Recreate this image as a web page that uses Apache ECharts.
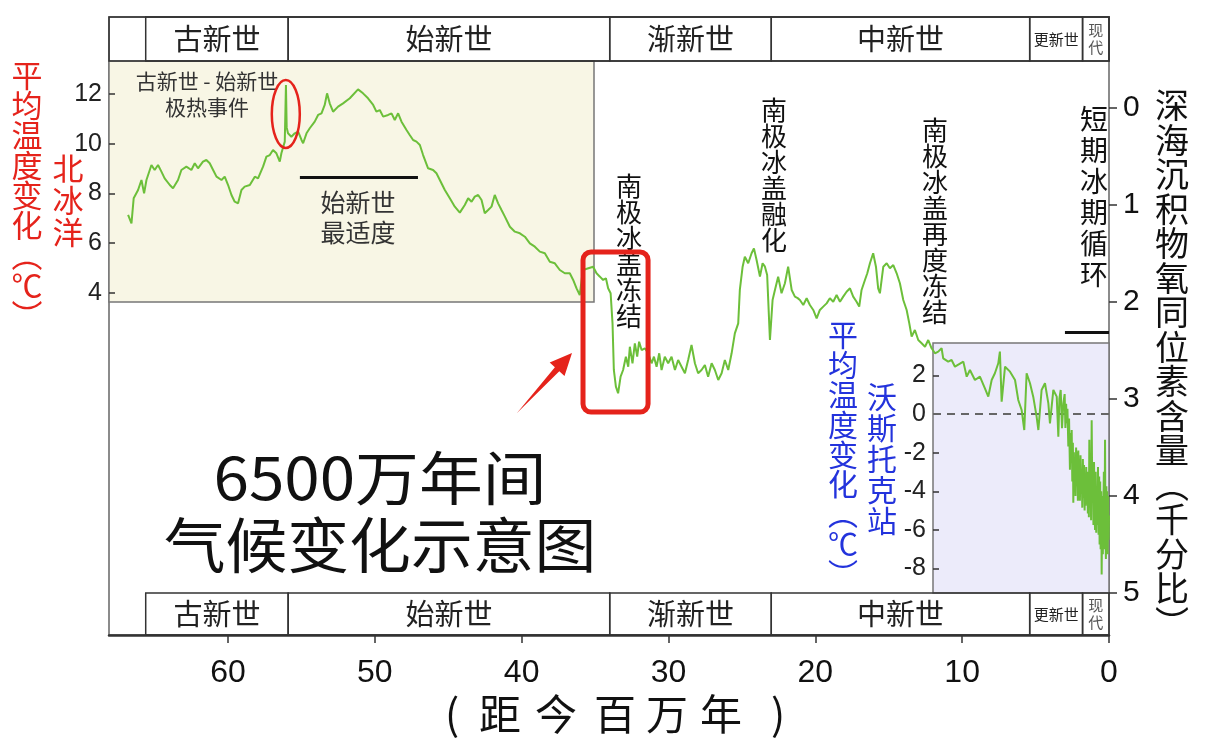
<!DOCTYPE html>
<html><head><meta charset="utf-8">
<script src="https://cdn.jsdelivr.net/npm/echarts@6/dist/echarts.min.js"></script>
<style>html,body{margin:0;padding:0;background:#fff;}#c{width:1224px;height:744px;}</style>
</head><body><div id="c"></div>
<script>
// Age (million years before present)
const ageMa = [
66.80,66.57,66.42,66.12,65.89,65.71,65.55,65.21,64.99,64.76,
64.53,64.31,63.96,63.74,63.40,63.17,62.83,62.49,62.26,62.04,
61.70,61.47,61.24,61.01,60.78,60.44,60.22,59.99,59.76,59.54,
59.31,59.08,58.86,58.51,58.17,57.95,57.61,57.38,57.15,56.93,
56.70,56.47,56.36,56.13,56.08,56.05,56.00,55.91,55.68,55.45,
55.22,54.99,54.88,54.65,54.43,54.09,53.86,53.63,53.41,53.25,
53.07,52.84,52.50,52.16,51.70,51.14,50.80,50.46,50.11,49.89,
49.66,49.43,49.09,48.86,48.64,48.41,48.18,47.84,47.62,47.39,
47.16,46.93,46.71,46.37,46.03,45.80,45.57,45.23,44.89,44.55,
44.21,43.87,43.64,43.41,43.19,42.96,42.73,42.51,42.28,42.05,
41.83,41.60,41.37,41.14,40.80,40.46,40.12,39.78,39.44,39.10,
38.76,38.42,38.08,37.74,37.40,37.06,36.72,36.49,36.26,36.04,
35.83,35.13,34.90,34.67,34.45,34.26,34.11,33.94,33.81,33.72,
33.58,33.43,33.26,33.09,32.90,32.74,32.63,32.45,32.29,32.13,
32.00,31.83,31.61,31.38,31.15,30.99,30.81,30.63,30.47,30.25,
30.02,29.79,29.56,29.34,29.11,28.88,28.66,28.43,28.20,27.98,
27.75,27.52,27.30,27.06,26.84,26.61,26.38,26.16,25.93,25.70,
25.48,25.25,25.14,24.95,24.80,24.57,24.34,24.18,24.00,23.77,
23.59,23.43,23.28,23.09,22.91,22.75,22.53,22.30,22.07,21.85,
21.61,21.39,21.20,21.05,20.82,20.59,20.37,20.14,19.91,19.69,
19.46,19.23,19.01,18.78,18.55,18.32,18.10,17.87,17.64,17.42,
17.19,17.01,16.85,16.62,16.46,16.28,16.06,15.87,15.72,15.60,
15.37,15.14,14.92,14.69,14.46,14.24,14.01,13.78,13.60,13.44,
13.22,12.99,12.76,12.53,12.31,12.08,11.85,11.63,11.40,11.29,
11.17,10.95,10.83,10.72,10.49,10.37,9.92,9.69,9.47,9.13,
8.79,8.45,8.22,7.99,7.77,7.54,7.43,7.31,7.08,6.74,
6.40,6.18,5.95,5.77,5.61,5.38,5.16,4.93,4.81,4.59,
4.36,4.13,4.02,3.79,3.56,3.45,3.38,3.29,3.20,3.11,
3.02,2.97,2.92,2.88,2.83,2.77,2.72,2.66,2.62,2.58,
2.54,2.50,2.46,2.43,2.39,2.35,2.32,2.28,2.24,2.20,
2.16,2.12,2.09,2.05,2.02,1.98,1.94,1.90,1.86,1.82,
1.78,1.74,1.70,1.66,1.63,1.59,1.55,1.52,1.48,1.44,
1.40,1.37,1.34,1.30,1.26,1.22,1.18,1.14,1.10,1.06,
1.02,0.98,0.95,0.91,0.87,0.83,0.79,0.75,0.71,0.67,
0.64,0.60,0.57,0.53,0.50,0.46,0.42,0.39,0.35,0.31,
0.27,0.24,0.21,0.18,0.15,0.12,0.09,0.06,0.03,0.00
];
// Deep-sea sediment oxygen isotope (per mil)
const d18O = [
1.103,1.189,0.931,0.845,0.742,0.880,0.742,0.588,0.639,0.588,
0.656,0.725,0.794,0.828,0.742,0.639,0.605,0.639,0.570,0.622,
0.553,0.536,0.570,0.639,0.708,0.742,0.708,0.794,0.897,0.966,
0.983,0.845,0.811,0.794,0.708,0.725,0.605,0.502,0.485,0.433,
0.467,0.553,0.467,0.347,0.330,-0.237,0.200,0.261,0.296,0.261,
0.244,0.330,0.364,0.261,0.209,0.141,0.072,0.055,-0.031,-0.151,
-0.048,0.038,-0.014,-0.048,-0.100,-0.192,-0.151,-0.100,-0.031,0.038,
0.021,0.089,0.072,0.055,0.124,0.055,0.141,0.227,0.278,0.330,
0.347,0.381,0.485,0.622,0.639,0.673,0.742,0.845,0.931,1.017,
1.079,1.000,0.931,0.966,0.914,0.897,0.948,1.086,1.052,1.017,
0.897,0.983,1.052,1.120,1.224,1.275,1.292,1.327,1.395,1.430,
1.481,1.498,1.585,1.601,1.670,1.704,1.704,1.773,1.859,1.928,
1.670,1.636,1.704,1.739,1.773,1.756,1.859,1.910,2.220,2.701,
2.873,2.941,2.770,2.701,2.564,2.667,2.461,2.632,2.426,2.564,
2.409,2.495,2.477,2.529,2.632,2.564,2.667,2.529,2.701,2.564,
2.632,2.564,2.701,2.598,2.667,2.735,2.598,2.443,2.632,2.735,
2.701,2.649,2.770,2.632,2.701,2.804,2.735,2.598,2.701,2.529,
2.323,2.220,1.876,1.636,1.533,1.601,1.498,1.447,1.567,1.739,
1.601,1.636,1.722,2.392,1.979,1.876,1.739,1.910,1.807,1.636,
1.876,1.945,1.960,1.979,2.031,1.962,2.031,2.082,2.168,2.082,
2.048,2.014,1.962,1.997,1.928,1.997,1.945,1.894,1.859,1.945,
1.997,2.048,1.876,1.773,1.704,1.601,1.498,1.636,1.859,1.910,
1.636,1.601,1.653,1.619,1.704,1.807,1.979,2.082,2.220,2.357,
2.289,2.392,2.426,2.461,2.392,2.477,2.529,2.512,2.477,2.581,
2.564,2.615,2.632,2.598,2.667,2.649,2.615,2.770,2.701,2.804,
2.770,2.890,2.976,2.804,2.735,2.632,2.512,3.028,2.667,2.718,
2.804,3.010,3.113,3.320,2.735,2.838,2.976,3.182,3.320,2.907,
2.838,3.045,3.251,2.907,2.976,3.388,3.000,2.907,3.300,3.045,
2.95,3.30,3.05,3.25,3.10,3.49,3.20,3.73,3.35,3.60,
3.32,3.85,3.45,4.07,3.55,3.95,3.60,4.00,3.50,3.90,
3.55,4.05,3.53,3.95,3.62,4.05,3.58,3.98,3.73,4.12,
3.62,4.02,3.68,4.15,3.87,4.10,3.70,4.08,3.75,4.18,
3.80,4.22,3.42,4.00,3.70,4.25,3.22,3.95,3.70,4.30,
3.65,4.20,4.35,3.75,4.38,3.90,4.30,3.70,4.40,3.80,
4.50,3.85,4.55,3.95,4.81,4.00,4.60,4.21,3.75,4.55,
3.42,4.40,4.65,3.90,4.49,3.95,4.60,4.00,4.45,4.20
];
const xTicks = [0,10,20,30,40,50,60];
const isoTicks = [0,1,2,3,4,5];
const arcticTicks = [4,6,8,10,12];
const vostokTicks = [2,0,-2,-4,-6,-8];
const epochNames = ['古新世','始新世','渐新世','中新世','更新世','现代'];
const epochStart = [65.6,55.9,34.0,23.0,5.4,1.8];
const epochEnd   = [55.9,34.0,23.0,5.4,1.8,0.0];

const CJK = "'Noto Sans CJK SC', sans-serif";
const NUM = "'Liberation Sans Narrow','Liberation Sans',Arial,sans-serif";
const GREEN = '#6cbf3a', RED = '#e5231b', BLUE = '#2333dc';

const chart = echarts.init(document.getElementById('c'), null, {renderer:'canvas'});
const curve = ageMa.map((a,i)=>[a, d18O[i]]);
const epochData = epochStart.map((s,i)=>[s, epochEnd[i], i]);

function headerItem(params, api){
  const s = api.value(0), e = api.value(1), idx = api.value(2);
  const p0 = api.coord([s, 1]), p1 = api.coord([e, 0]);
  const x = p0[0], y = p0[1], w = p1[0]-p0[0], h = p1[1]-p0[1];
  const name = epochNames[idx];
  let txt = name, fs = 29, lh = 30, col = '#222';
  if (w < 35) { txt = Array.from(name).join('\n'); fs = 15; lh = 17; col = '#555'; }
  else if (w < 70) { fs = 15; lh = 17; }
  return {type:'group', children:[
    {type:'rect', shape:{x:x, y:y, width:w, height:h}, style:{fill:'transparent', stroke:'#333', lineWidth:1.5}},
    {type:'text', x:x+w/2, y:y+h/2, style:{text:txt, fontSize:fs, lineHeight:lh, fill:col, align:'center', verticalAlign:'middle', fontFamily:CJK}}
  ]};
}

const option = {
  animation:false,
  backgroundColor:'#ffffff',
  grid:[
    {left:109, top:17, width:1000, height:618, show:true, borderColor:'#666', borderWidth:1.5, backgroundColor:'transparent'},
    {left:109, top:61, width:485, height:241, show:true, backgroundColor:'#f8f6e5', borderColor:'#777', borderWidth:1.5},
    {left:933, top:343, width:176, height:250, show:true, backgroundColor:'#ecebfa', borderColor:'#777', borderWidth:1.5},
    {left:109, top:17, width:1000, height:44, show:true, borderColor:'#333', borderWidth:1.5, backgroundColor:'transparent'},
    {left:109, top:593, width:1000, height:42, show:false}
  ],
  xAxis:[
    {gridIndex:0, type:'value', min:0, max:68.1, inverse:true, position:'bottom',
     axisLine:{show:true, onZero:false, lineStyle:{color:'#333', width:2.5}},
     axisTick:{show:true, customValues:xTicks, length:8, lineStyle:{color:'#333', width:1.5}},
     axisLabel:{customValues:xTicks, fontSize:32, margin:22, color:'#111', fontFamily:NUM},
     splitLine:{show:false}},
    {gridIndex:1, type:'value', min:0, max:1, show:false},
    {gridIndex:2, type:'value', min:0, max:1, show:false},
    {gridIndex:3, type:'value', min:0, max:68.1, inverse:true, show:false},
    {gridIndex:4, type:'value', min:0, max:68.1, inverse:true, show:false}
  ],
  yAxis:[
    {gridIndex:0, type:'value', position:'right', min:-0.938, max:5.433, inverse:true,
     axisLine:{show:false, onZero:false},
     axisTick:{show:true, customValues:isoTicks, length:8, lineStyle:{color:'#333', width:1.5}},
     axisLabel:{customValues:isoTicks, fontSize:30, margin:14, color:'#111', fontFamily:NUM},
     splitLine:{show:false}},
    {gridIndex:1, type:'value', position:'left', min:3.638, max:13.327,
     axisLine:{show:false, onZero:false},
     axisTick:{show:true, inside:true, customValues:arcticTicks, length:6, lineStyle:{color:'#333', width:1.5}},
     axisLabel:{customValues:arcticTicks, fontSize:25, margin:7, color:'#222', fontFamily:NUM},
     splitLine:{show:false}},
    {gridIndex:2, type:'value', position:'left', min:-9.27, max:3.68,
     axisLine:{show:false, onZero:false},
     axisTick:{show:true, inside:true, customValues:vostokTicks, length:6, lineStyle:{color:'#333', width:1.5}},
     axisLabel:{customValues:vostokTicks, fontSize:25, margin:7, color:'#222', fontFamily:NUM},
     splitLine:{show:false}},
    {gridIndex:3, type:'value', min:0, max:1, show:false},
    {gridIndex:4, type:'value', min:0, max:1, show:false}
  ],
  series:[
    {type:'line', xAxisIndex:0, yAxisIndex:0, data:curve, showSymbol:false, symbol:'none', z:5,
     lineStyle:{color:GREEN, width:2},
     markLine:{silent:true, symbol:'none', label:{show:false}, lineStyle:{color:'#111', width:3, type:'solid'},
       data:[
         [{coord:[55.1, 0.711]},{coord:[47.06, 0.711]}],
         [{coord:[3.0, 2.31]},{coord:[0.0, 2.31]}]
       ]}},
    {type:'line', xAxisIndex:2, yAxisIndex:2, data:[], showSymbol:false,
     markLine:{silent:true, symbol:'none', label:{show:false}, lineStyle:{color:'#666', width:2, type:[8,6]},
       data:[{yAxis:0}]}},
    {type:'custom', xAxisIndex:3, yAxisIndex:3, data:epochData, renderItem:headerItem, z:3},
    {type:'custom', xAxisIndex:4, yAxisIndex:4, data:epochData, renderItem:headerItem, z:3}
  ]
};
chart.setOption(option);

function vtext(str, x, top, size, lh, color){
  return {type:'text', x:x, y:top, z:20, style:{text:Array.from(str).join('\n'), fontSize:size, lineHeight:lh, fill:color, align:'center', verticalAlign:'top', fontFamily:CJK}};
}
function htext(str, x, y, size, color, sx){
  return {type:'text', x:x, y:y, z:20, scaleX:sx||1, style:{text:str, fontSize:size, fill:color, align:'center', verticalAlign:'middle', fontFamily:CJK}};
}
const P = (a,v)=>chart.convertToPixel({gridIndex:0}, [a,v]);
const boxA = P(35.82, 1.485), boxB = P(31.39, 3.134);
const petm = P(56.06, 0.062);

const axisTitleChars = ['(', '距', '今', '百', '万', '年', ')'];
const axisTitleX = [452, 500, 556, 615, 667, 721, 778];

const graphics = [
  vtext('平均温度变化︵℃︶', 27, 60, 31, 30, RED),
  vtext('北冰洋', 68, 152, 31, 32, RED),
  vtext('平均温度变化︵℃︶', 843, 320, 30, 29.8, BLUE),
  vtext('沃斯托克站', 882, 381, 30, 31, BLUE),
  vtext('深海沉积物氧同位素含量︵千分比︶', 1172, 88, 34, 34.5, '#111'),
  vtext('南极冰盖冻结', 629, 173, 26, 26, '#111'),
  vtext('南极冰盖融化', 774, 97, 26, 26, '#111'),
  vtext('南极冰盖再度冻结', 935, 117, 26, 26, '#111'),
  vtext('短期冰期循环', 1094, 104, 28, 31, '#111'),
  htext('古新世 - 始新世', 207, 81, 21, '#333'),
  htext('极热事件', 207, 107, 21, '#333'),
  htext('始新世', 358, 202, 25, '#333'),
  htext('最适度', 358, 232, 25, '#333'),
  htext('6500万年间', 380, 478, 58, '#111', 1.1),
  htext('气候变化示意图', 380, 545, 60, '#111', 1.03),
  {type:'rect', z:20, shape:{x:boxA[0], y:boxA[1], width:boxB[0]-boxA[0], height:boxB[1]-boxA[1], r:8},
   style:{fill:'transparent', stroke:RED, lineWidth:5}},
  {type:'ellipse', z:20, shape:{cx:petm[0], cy:petm[1], rx:14, ry:34}, style:{fill:'transparent', stroke:RED, lineWidth:2.5}},
  {type:'polygon', z:20, shape:{points:[[517,413],[559.3,371.2],[564.5,376.0],[572,353],[549.7,362.4],[554.9,367.2]]},
   style:{fill:RED}}
];
axisTitleChars.forEach((c,i)=>graphics.push(htext(c, axisTitleX[i], 714, 42, '#111')));
chart.setOption({graphic:graphics});
</script></body></html>
